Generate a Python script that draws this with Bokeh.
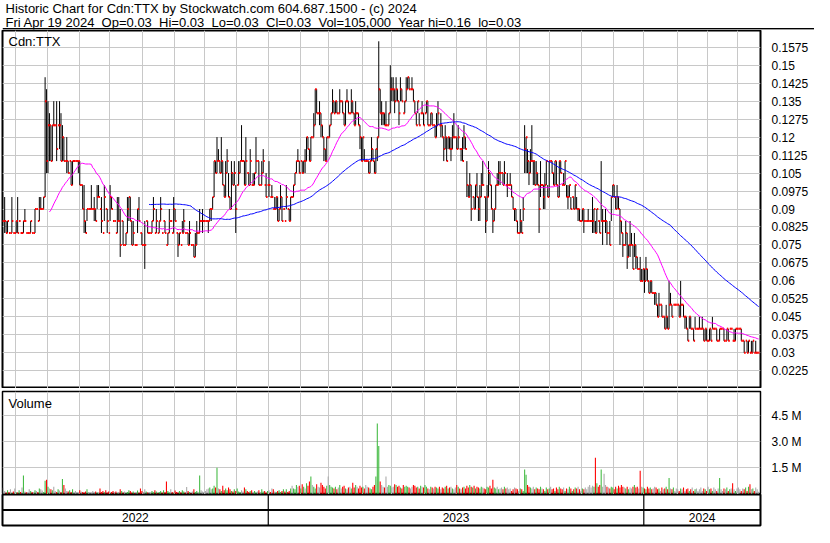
import numpy as np
import pandas as pd
from bokeh.plotting import figure
from bokeh.models import Range1d, FixedTicker, Label, ColumnDataSource
from bokeh.layouts import column
from bokeh.embed import file_html
from bokeh.resources import INLINE

FONT = "Liberation Sans"
TITLE1 = "Historic Chart for Cdn:TTX by Stockwatch.com 604.687.1500 - (c) 2024"
TITLE2 = "Fri Apr 19 2024\u00a0 Op=0.03\u00a0 Hi=0.03\u00a0 Lo=0.03\u00a0 Cl=0.03\u00a0 Vol=105,000\u00a0 Year hi=0.16\u00a0 lo=0.03"
SYMBOL = "Cdn:TTX"
VOL_LABEL = "Volume"
START = "2022-04-19"
UNIT = 0.005          # prices below are in half-cent units
MA_SHORT = 33
MA_LONG = 102

# daily high / low / close (x 0.005)
high = [
 17,19,17,17,16,16,19,16,16,
 17,19,17,16,16,17,18,16,16,16,17,16,16,18,18,17,19,
 19,18,19,
 29,28,27,26,25,
 25,27,25,27,25,27,26,25,24,22,
 24,22,22,22,22,
 22,22,22,22,22,20,20,
 20,17,18,18,18,20,18,19,18,20,
 20,18,19,16,20,18,18,16,20,19,17,17,16,19,
 19,18,17,17,15,16,19,
 19,19,17,17,15,15,18,19,16,16,15,
 17,
 17,17,16,16,17,19,16,18,16,17, 19,16,17,17,15,16,18,17,16,19, 18,16,16,16,15,17,18,16,16,16, 17,15,15,15,16,17,16,18,
 17,18,17,17,17,17,18,
 18,19,22,22,24,23,22,24,22,20,22,23,21,19,22,21,22,
 20,20,22,
 22,25,22,22,24,21,21,23,20,21,
 21,24,22,22,20,22,23,20,21,20,22,19,20,18,19,19,19,
 18,20,19,18,17,20,18,18,19,19,20,
 21,22,23,22,22,22,22,
 23,24,24,23,24,24,
 26,28,28,26,27,
 26,25,24,23,24,24,25,26,
 28,27,27,27,26,28,27,27,26,27,28,27,26,28,27,26,27,26,26,
 25,24,24,23,22,22,22,
 22,24,23,22,23,24,
 32,28,27,
 26,26,27,25,26,
 30,29,29,28,
 29,28,27,29,28,26,27,29,
 29,29,28,29,28,
 27,26,27,26,26,27,26,26,27,
 27,25,26,26,25,25,26,27,25,
 26,25,24,25,24,24,24,
 24,25,26,24,24,25,23,23,24,25,24,
 22,20,21,20,19,19,20,21,19,
 20,21,22,19,19,20,22,21,20,18,18,20,21,22,
 22,21,21,22,20,21,20,21,20,
 19,18,18,17,16,18,17,19,
 25,24,23,22,23,
 25,22,22,22,21,20,22,20,20,
 21,22,20,22,22,22,21,22,22,20,22,22,20,21,22,20,
 20,20,19,19,19,20,19,
 18,18,17,18,18,17,17,18,17,17,
 19,18,17,
 18,17,17,22,18,17,18,17,16,17,
 19,20,20,19,20,19,
 18,17,16,15,17,16,15,
 17,16,15,16,15,14,13,
 14,13,13,13,14,13,12,12,12,11,11,
 11,10,11,10,10,9,9,10,9,
 12,11,10,10,10,
 10,10,10,12,10,10,
 9,9,8,9,9,8,8,9,8,8,9,
 8,9,8,8,8,7,8,8,9,8,8,8,7,8,8,8,8,7,8,8,8,8,7,8,8,8,8,8,
 8,7,7,7,7,7,6,7,7,6,7,6,6,
]
low = [
 17,16,16,16,16,16,16,16,16,
 16,16,17,16,16,16,17,16,16,16,16,16,16,16,18,17,17,
 18,18,18,
 19,21,21,22,22,
 22,25,25,22,25,23,22,22,22,22,
 21,21,22,20,20,
 22,22,22,21,20,20,18,
 16,16,17,18,18,18,18,17,17,18,
 19,18,16,16,17,18,16,16,17,18,17,17,16,16,
 17,14,17,15,15,15,16,
 17,17,15,15,15,15,16,17,16,15,15,
 13,
 17,16,16,16,16,17,16,16,16,16, 17,16,17,16,15,15,16,17,16,16, 17,16,14,15,15,16,16,16,16,15, 15,15,15,14,14,15,16,16,
 17,16,17,17,17,16,17,
 17,18,19,21,21,22,21,21,20,19,19,21,19,18,18,20,20,
 16,20,20,
 21,22,22,20,20,21,20,20,20,20,
 20,21,22,20,20,20,21,20,19,20,19,19,19,18,18,18,17,
 17,18,17,18,17,18,18,17,17,19,19,
 20,21,22,21,22,21,21,
 21,22,23,22,22,24,
 24,25,26,26,25,
 24,24,22,22,22,24,24,25,
 26,26,26,26,26,26,27,26,25,25,27,26,26,26,26,25,25,26,25,
 23,22,22,22,22,22,21,
 21,22,22,21,21,22,
 24,26,25,
 25,25,25,25,25,
 26,27,27,26,
 27,27,25,27,27,26,26,27,
 28,28,28,28,27,
 26,25,26,25,26,26,25,26,26,
 25,25,25,25,25,24,24,25,25,
 24,24,22,23,22,23,23,
 22,23,24,24,23,23,23,22,22,23,23,
 19,19,19,17,19,18,18,19,17,
 17,19,20,19,16,17,19,20,18,16,17,18,20,20,
 20,21,20,20,20,19,20,20,19,
 18,17,17,16,16,16,16,17,
 21,21,21,20,21,
 22,20,20,20,20,16,19,20,18,
 18,20,19,19,22,21,20,20,20,19,19,21,20,20,20,19,
 18,19,18,19,18,18,18,
 17,17,17,17,16,17,17,17,17,17,
 16,16,16,
 16,17,16,17,15,17,16,15,16,15,
 17,19,19,18,18,18,
 15,16,14,15,15,13,14,
 14,15,13,14,13,13,13,
 12,12,12,11,12,12,11,11,11,11,10,
 10,9,9,10,9,9,8,8,8,
 8,10,9,10,10,
 10,10,9,9,10,9,
 8,8,7,8,8,8,7,8,8,8,8,
 8,8,7,7,7,7,7,7,8,8,8,7,7,7,8,8,7,7,7,7,8,8,7,7,7,8,8,8,
 7,7,6,7,6,6,6,6,6,6,6,6,6,
]
close = [
 17,17,16,17,16,16,17,16,16,
 17,16,17,16,16,17,17,16,16,16,17,16,16,18,18,17,18,
 18,18,19,
 27,22,25,25,22,
 25,25,25,23,25,25,22,24,22,22,
 22,21,22,20,22,
 22,22,22,22,20,20,18,
 17,16,18,18,18,18,18,18,17,19,
 19,18,17,16,19,18,17,16,19,18,17,17,16,17,
 17,15,17,15,15,16,18,
 19,17,15,16,15,15,18,17,16,15,15,
 15,
 17,16,16,16,17,18,16,17,16,17, 18,16,17,16,15,16,17,17,16,18, 17,16,15,16,15,16,17,16,16,15, 16,15,15,14,15,16,16,17,
 17,17,17,17,17,17,18,
 18,19,22,21,22,22,21,22,20,19,21,22,19,18,21,20,21,
 18,20,21,
 22,22,22,20,22,21,20,22,20,20,
 21,22,22,20,20,21,22,20,19,20,20,19,19,18,18,19,17,
 18,19,17,18,17,19,18,17,19,19,20,
 21,22,22,21,22,21,22,
 22,24,23,22,24,24,
 25,28,26,26,26,
 25,24,23,22,24,24,25,26,
 27,26,27,26,26,27,27,26,25,27,27,26,26,27,26,25,26,26,25,
 24,22,24,22,22,22,21,
 22,23,22,21,23,24,
 28,26,26,
 26,25,25,25,26,
 28,28,28,27,
 28,27,26,28,27,26,27,28,
 29,28,28,28,27,
 26,25,27,25,26,26,25,26,27,
 25,25,26,25,25,24,25,26,25,
 25,24,23,24,22,24,23,
 23,24,24,24,23,24,23,23,22,24,23,
 20,19,20,18,19,18,20,19,18,
 19,20,20,19,17,19,21,20,18,17,18,20,20,21,
 21,21,20,21,20,20,20,20,19,
 18,18,17,16,16,17,16,18,
 23,24,22,21,22,
 22,22,20,21,20,18,20,20,19,
 20,22,19,22,22,21,20,22,20,19,22,21,20,20,22,19,
 19,20,18,19,18,20,18,
 18,17,17,18,17,17,17,17,17,17,
 17,18,16,
 18,17,16,17,17,17,17,16,16,15,
 19,20,19,18,19,18,
 17,16,15,15,16,14,15,
 15,15,13,15,14,13,13,
 12,12,13,12,13,12,11,12,11,11,11,
 10,9,10,10,9,9,8,9,8,
 10,10,9,10,10,
 10,10,9,10,10,9,
 9,8,7,9,8,8,7,8,8,8,8,
 8,8,7,8,7,7,8,7,8,8,8,7,7,8,8,8,7,7,8,7,8,8,7,7,8,8,8,8,
 7,7,6,7,6,7,6,6,7,6,6,6,6,
]
# daily volume, thousands of shares
volume_k = [
 340,150,60,200,90,250,40,120,300,80, 60,200,90,350,1050,120,80,60,250,150,
 100,60,200,150,90,300,250,180,90,750, 800,400,300,250,200,400,150,90,250,180,
 90,850,500,300,150,120,200,90,250,60, 150,90,40,200,120,90,60,120,250,90,
 60,40,150,90,120,60,40,300,90,150, 80,200,60,120,40,90,150,60,120,40,
 90,250,150,60,120,40,90,200,150,60, 120,40,90,180,60,300,150,90,250,120,
 60,90,40,150,80,200,120,40,90,150, 60,200,90,700,150,60,250,90,40,180,
 90,60,150,80,200,120,60,380,150,90, 40,120,250,90,150,60,1050,200,120,90,
 150,250,300,350,250,300,450,350,1500,300, 250,150,450,200,300,200,350,250,150,120,
 250,150,300,120,90,200,120,350,250,150, 90,150,200,90,150,60,120,200,90,250,
 120,150,60,150,200,90,300,250,120,90, 150,200,90,150,250,120,250,90,150,300,
 450,300,250,500,400,450,300,550,400,300, 600,450,700,1000,500,400,300,550,400,350,
 630,500,400,300,450,1000,500,400,350,300, 400,250,350,500,300,400,450,300,250,350,
 400,300,630,350,500,400,300,450,350,400, 300,500,400,350,300,250,400,500,1000,4060,
 2760,700,500,400,350,1000,400,500,450,350, 400,550,500,400,450,350,300,500,400,450,
 400,350,300,400,500,450,350,400,300,450, 400,350,500,400,300,250,400,350,300,400,
 350,300,400,250,350,300,400,450,300,350, 400,300,250,350,500,400,300,250,350,400,
 300,450,350,500,400,350,450,300,400,350, 300,400,350,300,250,400,350,450,300,800,
 350,300,400,250,300,350,250,400,300,350, 250,300,150,250,350,300,250,150,300,250,
 150,1400,1100,500,400,350,300,400,250,350, 300,250,400,300,250,150,350,250,300,400,
 250,300,150,350,250,400,300,250,350,150, 300,250,400,300,150,250,350,300,400,250,
 150,300,250,350,250,400,500,350,450,400, 2080,600,400,500,1400,400,1150,500,400,350,
 300,400,350,250,400,300,450,350,500,400, 350,300,400,250,350,300,400,500,350,400,
 300,1330,400,350,300,250,400,300,350,250, 300,400,350,250,300,150,350,250,300,400,
 250,900,300,250,350,150,300,250,150,300, 250,350,150,250,300,150,250,350,150,250,
 300,150,250,350,150,300,250,150,400,250, 300,150,350,250,150,300,900,250,150,300,
 250,350,150,250,300,600,250,150,300,350, 250,150,300,250,350,150,400,550,250,300,
 150,350,250,105,
]
price_ticks = [0.0225, 0.03, 0.0375, 0.045, 0.0525, 0.06, 0.0675, 0.075, 0.0825, 0.09,
               0.0975, 0.105, 0.1125, 0.12, 0.1275, 0.135, 0.1425, 0.15, 0.1575]
volume_ticks = [1.5e6, 3.0e6, 4.5e6]
volume_tick_labels = ["1.5 M", "3.0 M", "4.5 M"]
years = ["2022", "2023", "2024"]

GREEN, RED, GRAY = "#44bb44", "#ff0000", "#aaaaaa"
GRID = "#c8c8c8"
TXT = "#000000"

n = min(len(high), len(low), len(close), len(volume_k))
high, low, close, volume_k = high[:n], low[:n], close[:n], volume_k[:n]
dates = pd.bdate_range(START, periods=n)
x = np.arange(n)
hi = np.array(high, float) * UNIT
lo = np.array(low, float) * UNIT
cl = np.array(close, float) * UNIT
op = np.concatenate([[cl[0]], cl[:-1]])
vol = np.array(volume_k, float) * 1000
vcol = np.where(cl > op, GREEN, np.where(cl < op, RED, GRAY))
ma_s = pd.Series(cl).rolling(MA_SHORT).mean().to_numpy()
ma_l = pd.Series(cl).rolling(MA_LONG).mean().to_numpy()

month_bounds = [i - 0.5 for i in range(1, n) if dates[i].month != dates[i - 1].month]
year_bounds = [i - 0.5 for i in range(1, n) if dates[i].year != dates[i - 1].year]

X0, X1 = -0.5, n + 0.3
xr = Range1d(X0, X1)
FW = 758
TOTAL_W = 814

src = ColumnDataSource(dict(x=x, xl=x - 0.7, xr=x + 0.7, hi=hi, lo=lo, op=op, cl=cl,
                            vol=vol, vcol=vcol, ma_s=ma_s, ma_l=ma_l))

def style_axis(ax, ticks, labels):
    ax.ticker = FixedTicker(ticks=ticks)
    ax.major_label_overrides = {t: l for t, l in zip(ticks, labels)}
    ax.axis_line_color = None
    ax.major_tick_line_color = None
    ax.minor_tick_line_color = None
    ax.major_label_standoff = 5
    ax.major_label_text_font = FONT
    ax.major_label_text_font_size = "12px"
    ax.major_label_text_color = TXT

def base_fig(h, yr, top=0, bottom=0, yloc="right"):
    f = figure(frame_width=FW, frame_height=h, x_range=xr, y_range=yr,
               x_axis_location=None, y_axis_location=yloc, toolbar_location=None,
               output_backend="svg", min_border_left=2, min_border_right=TOTAL_W - FW - 2,
               min_border_top=top, min_border_bottom=bottom)
    f.outline_line_color = "black"
    f.outline_line_alpha = 1
    f.background_fill_color = "white"
    f.border_fill_color = "white"
    return f

# ---- header (two title lines and the full-width rule under them)
HW, HH = TOTAL_W - 2, 29
hdr = figure(frame_width=HW, frame_height=HH, x_range=Range1d(0, HW), y_range=Range1d(HH, 0),
             x_axis_location=None, y_axis_location=None, toolbar_location=None,
             output_backend="svg", min_border_left=0, min_border_right=2,
             min_border_top=0, min_border_bottom=1)
hdr.outline_line_color = None
hdr.xgrid.visible = False
hdr.ygrid.visible = False
hdr.text(x=[3, 3], y=[0.5, 14.2], text=[TITLE1, TITLE2], text_baseline="top",
         text_font={"value": FONT}, text_font_size="13px", text_color=TXT)
hdr.segment(x0=[0], y0=[28.4], x1=[HW], y1=[28.4], line_color="black", line_width=1.6)

# ---- price panel
p = base_fig(358, Range1d(0.0151, 0.1645))
p.outline_line_width = 2
style_axis(p.yaxis[0], price_ticks, [f"{t:g}" for t in price_ticks])
p.xgrid.ticker = FixedTicker(ticks=month_bounds)
p.ygrid.ticker = FixedTicker(ticks=price_ticks)
for g in (p.xgrid, p.ygrid):
    g.grid_line_color = GRID
    g.grid_line_width = 1

p.segment(x0="x", y0="lo", x1="x", y1="hi", source=src, line_color="black", line_width=1)
p.segment(x0="xl", y0="op", x1="x", y1="op", source=src, line_color=RED, line_width=2)
p.segment(x0="x", y0="cl", x1="xr", y1="cl", source=src, line_color=RED, line_width=2)
p.line(x="x", y="ma_s", source=src, line_color="#ff00ff", line_width=1)
p.line(x="x", y="ma_l", source=src, line_color="#0000ff", line_width=1)
p.add_layout(Label(x=X0, y=0.1645, x_offset=6, y_offset=-3, text=SYMBOL, text_baseline="top",
                   text_font=FONT, text_font_size="13px", text_color=TXT))

# ---- volume panel
v = base_fig(103, Range1d(-0.05e6, 5.92e6), top=3)
v.outline_line_width = 1.5
style_axis(v.yaxis[0], volume_ticks, volume_tick_labels)
v.xgrid.ticker = FixedTicker(ticks=month_bounds)
v.ygrid.ticker = FixedTicker(ticks=volume_ticks)
for g in (v.xgrid, v.ygrid):
    g.grid_line_color = GRID
    g.grid_line_width = 1
v.vbar(x="x", top="vol", bottom=0, width=0.75, source=src, fill_color="vcol", line_color=None)
v.add_layout(Label(x=X0, y=5.92e6, x_offset=6, y_offset=-4, text=VOL_LABEL, text_baseline="top",
                   text_font=FONT, text_font_size="13px", text_color=TXT))

# ---- year band
b = base_fig(31, Range1d(0, 2), bottom=2, yloc=None)
b.outline_line_width = 2
b.xgrid.visible = False
b.ygrid.visible = False
edges = [X0] + year_bounds + [X1]
mids = [(edges[k] + edges[k + 1]) / 2 for k in range(len(edges) - 1)]
b.segment(x0=year_bounds, y0=[0] * len(year_bounds), x1=year_bounds, y1=[2] * len(year_bounds),
          line_color="black", line_width=1.2)
b.segment(x0=[X0], y0=[1.0], x1=[X1], y1=[1.0], line_color="black", line_width=2)
b.text(x=mids, y=[0.5] * len(mids), text=years[:len(mids)], text_align="center",
       text_baseline="middle", text_font_size="12px", text_color=TXT,
       text_font={"value": FONT})

layout = column(hdr, p, v, b, spacing=0)
open("out.html", "w").write(file_html(layout, INLINE))
